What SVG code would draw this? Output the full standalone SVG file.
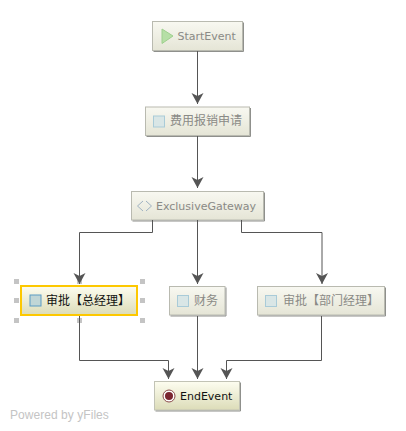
<svg xmlns="http://www.w3.org/2000/svg" width="406" height="431" viewBox="0 0 406 431">
<style>
.faded{fill:url(#fadedFill);stroke:#b9bab0;stroke-width:1}
.shadow{fill:none;stroke:#8f908c;stroke-width:1}
.t{font-family:"DejaVu Sans","Noto Sans CJK SC",sans-serif;font-size:12px;fill:#8a8a86}
.a{font-family:"DejaVu Sans","Noto Sans CJK SC",sans-serif;font-size:12px;fill:#111}
.l{font-size:11px}
.box{fill:#d9e6e6;stroke:#a9cbd8;stroke-width:1}
.edge{fill:none;stroke:#555;stroke-width:1;marker-end:url(#arrow)}
.h{fill:#c4c4c4}
</style>
<defs>
<linearGradient id="fadedFill" x1="0" y1="0" x2="0" y2="1"><stop offset="0" stop-color="#f8f8f1"/><stop offset="1" stop-color="#e5e5d6"/></linearGradient>
<linearGradient id="activeFill" x1="0" y1="0" x2="0" y2="1"><stop offset="0" stop-color="#fdfdf0"/><stop offset="1" stop-color="#dcdcb8"/></linearGradient>
<marker id="arrow" markerUnits="userSpaceOnUse" markerWidth="12" markerHeight="14" refX="11" refY="6" orient="auto"><path d="M0 0L11 6L0 12L3 6Z" fill="#555"/></marker>
</defs>
<g id="start">
<rect class="faded" x="152.500" y="21.500" width="90" height="29"/>
<path class="shadow" d="M243.500 22.500V51.500H153.500"/>
<path d="M162 29L173 36L162 43.500Z" fill="#b6dfa6" stroke="#9ed08e"/>
<text class="t l" x="177.500" y="40">StartEvent</text>
</g>
<g id="task-apply">
<rect class="faded" x="145.500" y="107" width="104" height="28.500"/>
<path class="shadow" d="M250.500 108V136.500H146.500"/>
<rect class="box" x="153.500" y="116" width="11" height="11"/>
<text class="t" x="170" y="125">费用报销申请</text>
</g>
<g id="gateway">
<rect class="faded" x="131.500" y="191.500" width="132" height="28.500"/>
<path class="shadow" d="M264.500 192.500V221H132.500"/>
<path d="M143 201L137.500 206L143 211M146 201L151.500 206L146 211" fill="none" stroke="#9fb2c2" stroke-width="1"/>
<text class="t l" x="156" y="210">ExclusiveGateway</text>
</g>
<g id="task-gm">
<rect x="21" y="286" width="116" height="29" fill="url(#activeFill)" stroke="#fdc800" stroke-width="2"/>
<rect x="30" y="295" width="11" height="11" fill="#c0d6d6" stroke="#5b9cc4"/>
<text class="a" x="46" y="305">审批【总经理】</text>
<rect class="h" x="14" y="279" width="5" height="5"/><rect class="h" x="77" y="279" width="5" height="5"/><rect class="h" x="140" y="279" width="5" height="5"/>
<rect class="h" x="14" y="298" width="5" height="5"/><rect class="h" x="140" y="298" width="5" height="5"/>
<rect class="h" x="14" y="318" width="5" height="5"/><rect class="h" x="77" y="318" width="5" height="5"/><rect class="h" x="140" y="318" width="5" height="5"/>
</g>
<g id="task-finance">
<rect class="faded" x="169.500" y="286.500" width="55.500" height="28.500"/>
<path class="shadow" d="M226 287.500V316H170.500"/>
<rect class="box" x="177.500" y="295.500" width="11" height="11"/>
<text class="t" x="194" y="305">财务</text>
</g>
<g id="task-dept">
<rect class="faded" x="257.500" y="286.500" width="127" height="28.500"/>
<path class="shadow" d="M385.500 287.500V316H258.500"/>
<rect class="box" x="265.500" y="295.500" width="11" height="11"/>
<text class="t" x="283" y="305">审批【部门经理】</text>
</g>
<g id="end">
<rect x="154.500" y="381.500" width="85" height="28.500" fill="url(#activeFill)" stroke="#c2c3b5"/>
<path class="shadow" d="M240.500 382.500V411H155.500"/>
<circle cx="169" cy="396" r="6" fill="#fff" stroke="#8a4a4a"/>
<circle cx="169" cy="396" r="4" fill="#7a2530"/>
<text class="a l" x="180" y="400">EndEvent</text>
</g>
<g id="connectors">
<path class="edge" d="M197.500 51V104"/>
<path class="edge" d="M197.500 136V188"/>
<path class="edge" d="M152.500 220V232.500H79.500V284"/>
<path class="edge" d="M197.500 220V284"/>
<path class="edge" d="M241.500 220V232.500H322V284"/>
<path class="edge" d="M79.500 316V360.500H168.500V379"/>
<path class="edge" d="M197.500 316V379"/>
<path class="edge" d="M321.500 316V360.500H226.500V379"/>
</g>
<text x="10" y="419" font-family="Liberation Sans,sans-serif" font-size="12" letter-spacing="0.05" fill="#c4c4c4">Powered by yFiles</text>
</svg>
